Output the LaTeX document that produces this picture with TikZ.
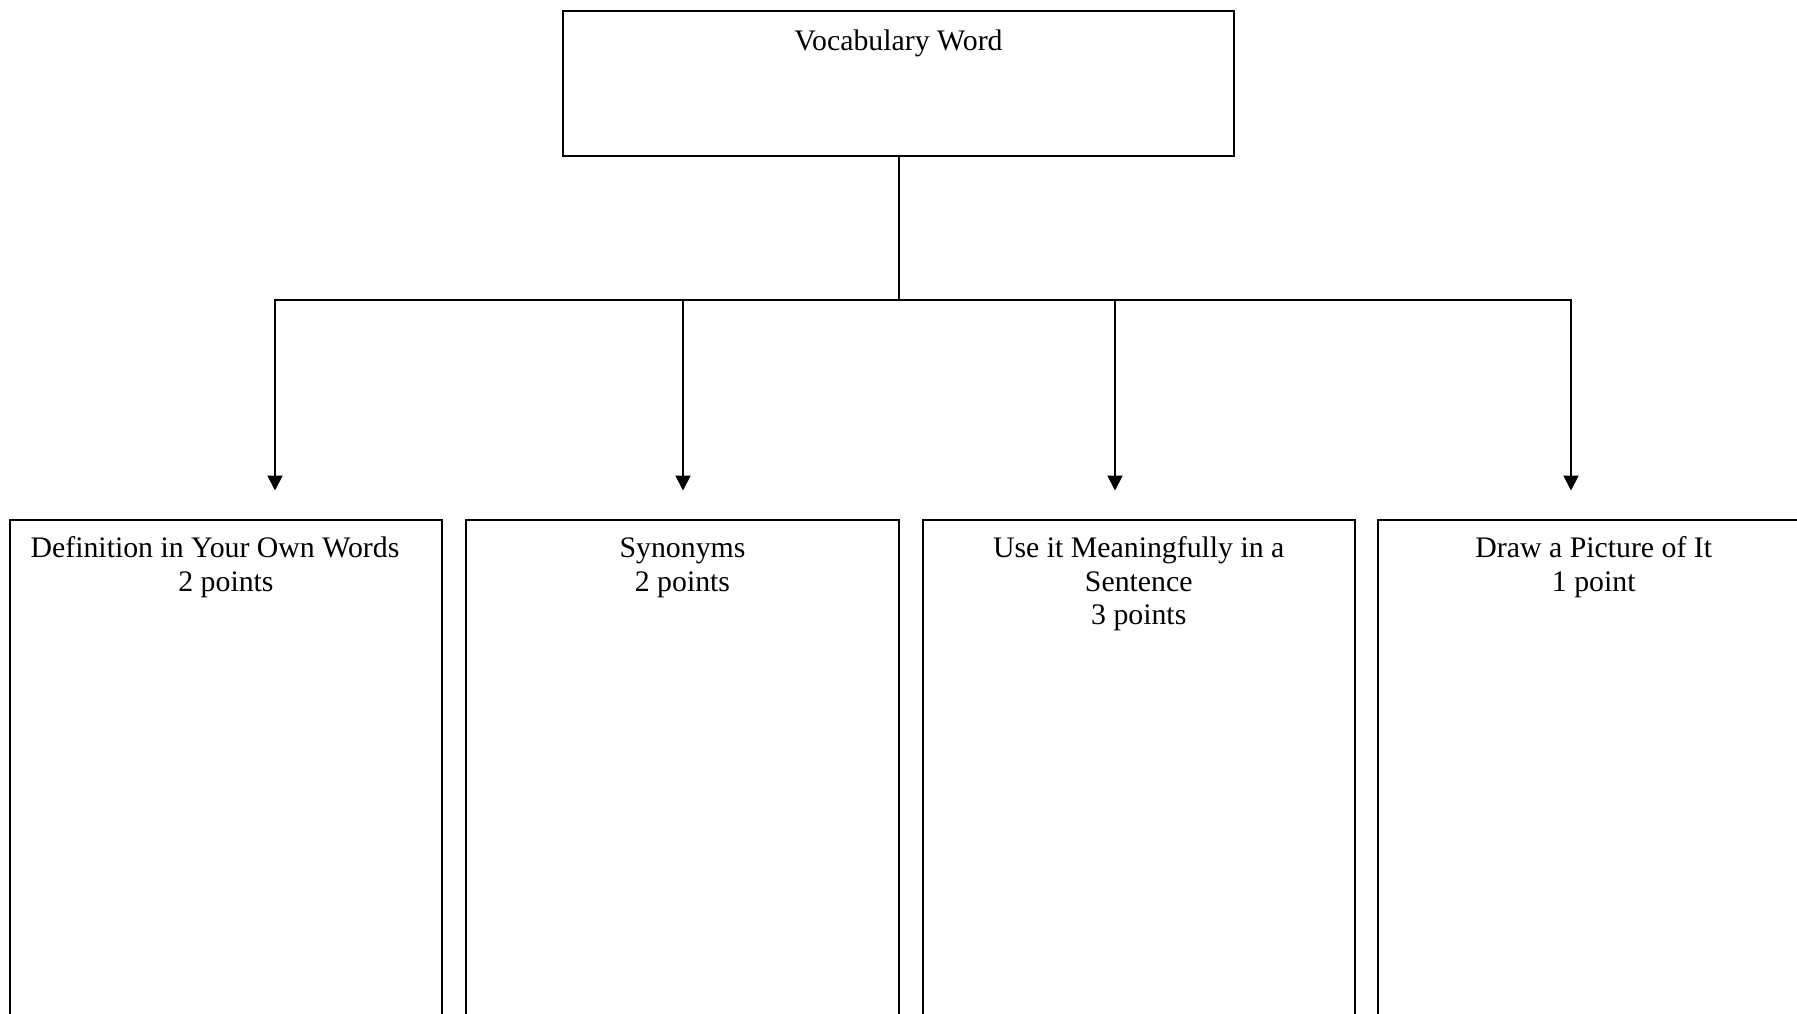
\documentclass[tikz,border=0pt]{standalone}
\usepackage{fontspec}
\setmainfont{Liberation Serif}
\usetikzlibrary{arrows.meta}
\begin{document}
\begin{tikzpicture}[x=1pt,y=-1pt,
  box/.style={draw, line width=2pt, rectangle, inner sep=0pt},
  bottombox/.style={box, minimum width=432.5pt, minimum height=560pt, anchor=north},
  lbl/.style={font=\fontsize{29.8}{33.8}\selectfont, align=center, inner sep=0pt, anchor=north},
  conn/.style={line width=2pt},
  arr/.style={conn, -{Triangle[length=15pt,width=15pt]}}]
\useasboundingbox (0,0) rectangle (1797,1014);
\clip (0,0) rectangle (1797,1014);
\fill[white] (0,0) rectangle (1797,1014);

% top box
\node[box, minimum width=671.6pt, minimum height=144.4pt] (top) at (898.5,83.7) {};
\node[lbl] (toptxt) at (898.5,26.8) {\strut Vocabulary Word};

% bottom boxes
\node[bottombox] (b1) at (226,519) {};
\node[bottombox] (b2) at (682.5,519) {};
\node[bottombox] (b3) at (1138.75,519) {};
\node[bottombox] (b4) at (1593.75,519) {};

\node[lbl] (l1) at (226,533.5) {\strut Definition in Your Own Words\hspace*{22pt}\\2 points};
\node[lbl] (l2) at (682.5,533.5) {\strut Synonyms\\2 points};
\node[lbl] (l3) at (1138.75,533.5) {\strut Use it Meaningfully in a\\Sentence\\3 points};
\node[lbl] (l4) at (1593.75,533.5) {\strut Draw a Picture of It\\1 point};

% connector coordinates
\coordinate (hub) at (898.5,299.5);
\coordinate (h2) at (683,299.5);
\coordinate (h3) at (1115,299.5);
\coordinate (t1) at (275,490.5);
\coordinate (t2) at (683,490.5);
\coordinate (t3) at (1115,490.5);
\coordinate (t4) at (1571,490.5);

\draw[conn] (top.south) -- (hub);
\draw[arr] (hub) -| (t1);
\draw[arr] (hub) -| (t4);
\draw[arr] (h2) -- (t2);
\draw[arr] (h3) -- (t3);
\end{tikzpicture}
\end{document}
